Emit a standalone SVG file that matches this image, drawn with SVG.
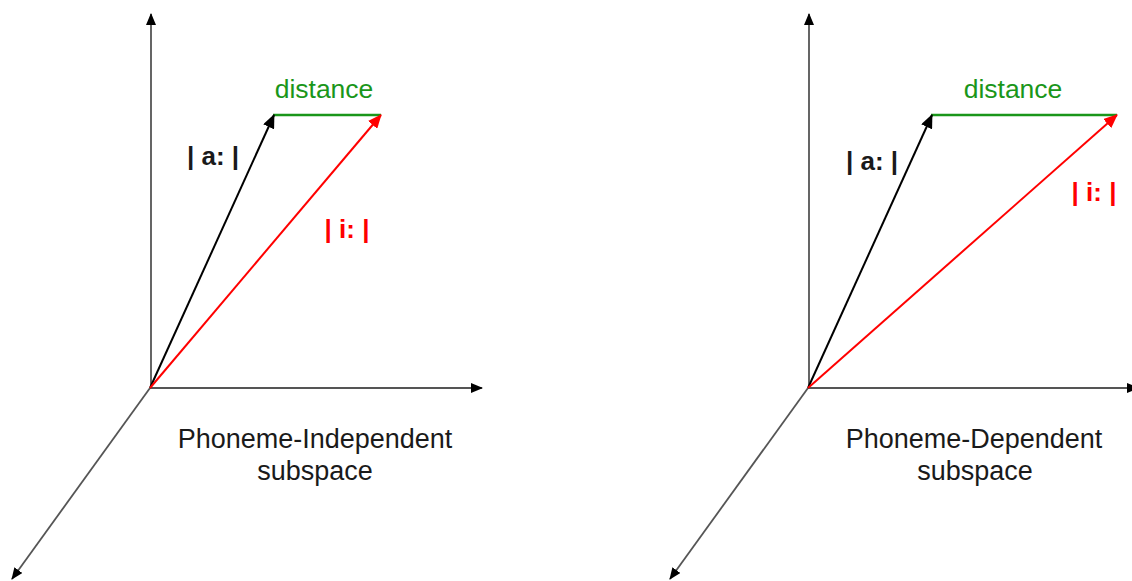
<svg xmlns="http://www.w3.org/2000/svg" width="1132" height="581" viewBox="0 0 1132 581">
<style>
.axis{stroke:#555;stroke-width:1.8;fill:none}
.va{stroke:#000;stroke-width:2;fill:none}
.vi{stroke:#ff0000;stroke-width:2;fill:none}
.dist{stroke:#1a961a;stroke-width:2.5;fill:none}
.t{font-family:"Liberation Sans",Arial,sans-serif;font-size:27px;fill:#1a1a1a;text-anchor:middle}
.g{font-family:"Liberation Sans",Arial,sans-serif;font-size:26.5px;fill:#1a961a;text-anchor:middle}
.b{font-family:"Liberation Sans",Arial,sans-serif;font-size:26px;font-weight:bold;fill:#1a1a1a;text-anchor:middle}
.r{font-family:"Liberation Sans",Arial,sans-serif;font-size:26px;font-weight:bold;fill:#ff0000;text-anchor:middle}
</style>
<defs>
<marker id="ah" markerUnits="userSpaceOnUse" markerWidth="12" markerHeight="10" refX="11" refY="5" orient="auto" viewBox="0 0 12 10"><path d="M0,0 L12,5 L0,10 z" fill="#000"/></marker>
<marker id="ahr" markerUnits="userSpaceOnUse" markerWidth="14" markerHeight="12" refX="13" refY="6" orient="auto" viewBox="0 0 14 12"><path d="M0,0 L14,6 L0,12 z" fill="#ff0000"/></marker>
<marker id="ahk" markerUnits="userSpaceOnUse" markerWidth="14" markerHeight="12" refX="13" refY="6" orient="auto" viewBox="0 0 14 12"><path d="M0,0 L14,6 L0,12 z" fill="#000"/></marker>
</defs>
<rect width="1132" height="581" fill="#fff"/>
<g id="connectors">
<g id="left-axes">
<line class="axis" x1="151" y1="388" x2="151" y2="14" marker-end="url(#ah)"/>
<line class="axis" x1="150" y1="388" x2="482" y2="388" marker-end="url(#ah)"/>
<line class="axis" x1="150" y1="388" x2="12" y2="579" marker-end="url(#ah)"/>
</g>
<g id="left-vectors">
<line class="dist" x1="273" y1="115" x2="381" y2="115"/>
<line class="va" x1="150" y1="388" x2="274" y2="115" marker-end="url(#ahk)"/>
<line class="vi" x1="150" y1="388" x2="381" y2="115" marker-end="url(#ahr)"/>
</g>
<g id="right-axes">
<line class="axis" x1="809" y1="388" x2="809" y2="14" marker-end="url(#ah)"/>
<line class="axis" x1="808" y1="388" x2="1138" y2="388" marker-end="url(#ah)"/>
<line class="axis" x1="808" y1="388" x2="670" y2="579" marker-end="url(#ah)"/>
</g>
<g id="right-vectors">
<line class="dist" x1="931" y1="115" x2="1117" y2="115"/>
<line class="va" x1="808" y1="388" x2="932" y2="115" marker-end="url(#ahk)"/>
<line class="vi" x1="808" y1="388" x2="1117" y2="115" marker-end="url(#ahr)"/>
</g>
</g>
<g id="left-labels">
<text class="g" x="324" y="98">distance</text>
<text class="b" x="213" y="165">| a: |</text>
<text class="r" x="347" y="238">| i: |</text>
<text class="t" x="315" y="448">Phoneme-Independent</text>
<text class="t" x="315" y="480">subspace</text>
</g>
<g id="right-labels">
<text class="g" x="1013" y="98">distance</text>
<text class="b" x="872" y="170">| a: |</text>
<text class="r" x="1094" y="201">| i: |</text>
<text class="t" x="974" y="448">Phoneme-Dependent</text>
<text class="t" x="975" y="480">subspace</text>
</g>
</svg>
